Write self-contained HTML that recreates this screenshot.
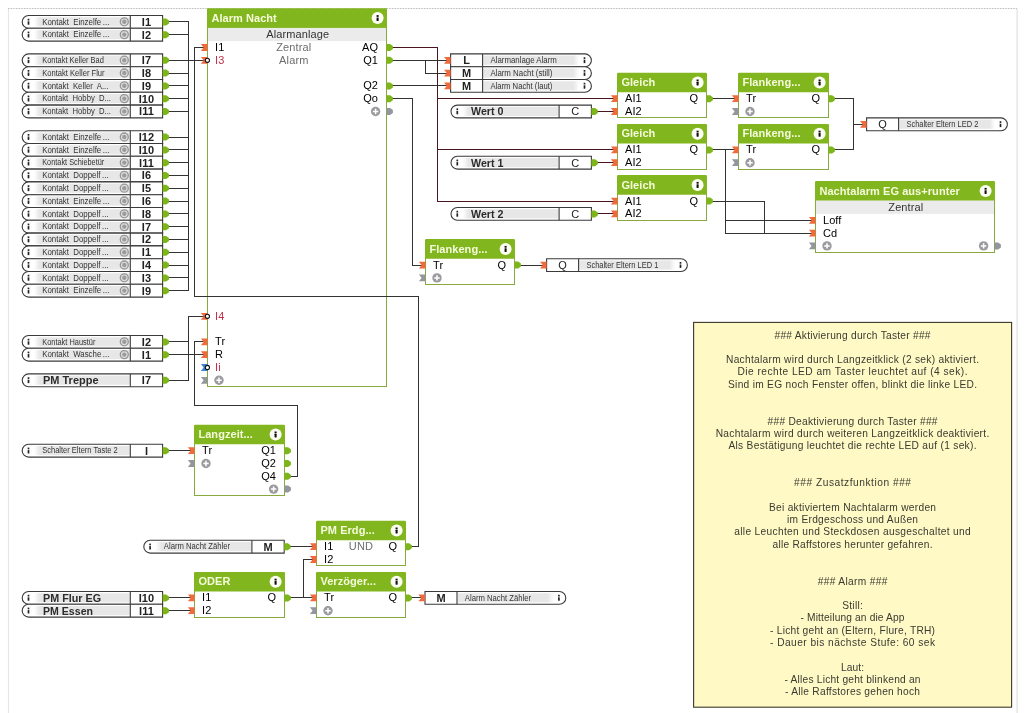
<!DOCTYPE html>
<html lang="de">
<head>
<meta charset="utf-8">
<title>Alarm Nacht</title>
<style>
html,body{margin:0;padding:0;background:#fff;}
body{width:1027px;height:713px;overflow:hidden;}
svg{display:block;font-family:"Liberation Sans", sans-serif;will-change:transform;}
text{white-space:pre;}
</style>
</head>
<body>
<svg width="1027" height="713" viewBox="0 0 1027 713">
<defs>
<linearGradient id="fadeL" x1="0" x2="1" y1="0" y2="0"><stop offset="0" stop-color="#ffffff"/><stop offset="0.06" stop-color="#e7e7e7"/><stop offset="1" stop-color="#e7e7e7"/></linearGradient>
<linearGradient id="fadeR" x1="0" x2="1" y1="0" y2="0"><stop offset="0" stop-color="#e7e7e7"/><stop offset="0.94" stop-color="#e7e7e7"/><stop offset="1" stop-color="#ffffff"/></linearGradient>
</defs>
<rect x="0" y="0" width="1027" height="713" fill="#fff"/>
<path d="M8 8.5 H1017" stroke="#b0b0b0" stroke-width="1" stroke-dasharray="0.8 0.8"/>
<path d="M8.5 9 V713" stroke="#e6e6e6" stroke-width="1.2"/>
<path d="M1017.2 9 V713" stroke="#e8e8e8" stroke-width="1.7"/>
<path d="M188.5 21.5 L188.5 290.5" fill="none" stroke="#333333" stroke-width="1" stroke-linejoin="miter" shape-rendering="crispEdges"/>
<path d="M167.5 21.5 L188.5 21.5" fill="none" stroke="#333333" stroke-width="1" stroke-linejoin="miter" shape-rendering="crispEdges"/>
<path d="M167.5 34.5 L188.5 34.5" fill="none" stroke="#333333" stroke-width="1" stroke-linejoin="miter" shape-rendering="crispEdges"/>
<path d="M167.5 60.5 L188.5 60.5" fill="none" stroke="#333333" stroke-width="1" stroke-linejoin="miter" shape-rendering="crispEdges"/>
<path d="M167.5 73.5 L188.5 73.5" fill="none" stroke="#333333" stroke-width="1" stroke-linejoin="miter" shape-rendering="crispEdges"/>
<path d="M167.5 85.5 L188.5 85.5" fill="none" stroke="#333333" stroke-width="1" stroke-linejoin="miter" shape-rendering="crispEdges"/>
<path d="M167.5 98.5 L188.5 98.5" fill="none" stroke="#333333" stroke-width="1" stroke-linejoin="miter" shape-rendering="crispEdges"/>
<path d="M167.5 111.5 L188.5 111.5" fill="none" stroke="#333333" stroke-width="1" stroke-linejoin="miter" shape-rendering="crispEdges"/>
<path d="M167.5 137.5 L188.5 137.5" fill="none" stroke="#333333" stroke-width="1" stroke-linejoin="miter" shape-rendering="crispEdges"/>
<path d="M167.5 149.5 L188.5 149.5" fill="none" stroke="#333333" stroke-width="1" stroke-linejoin="miter" shape-rendering="crispEdges"/>
<path d="M167.5 162.5 L188.5 162.5" fill="none" stroke="#333333" stroke-width="1" stroke-linejoin="miter" shape-rendering="crispEdges"/>
<path d="M167.5 175.5 L188.5 175.5" fill="none" stroke="#333333" stroke-width="1" stroke-linejoin="miter" shape-rendering="crispEdges"/>
<path d="M167.5 188.5 L188.5 188.5" fill="none" stroke="#333333" stroke-width="1" stroke-linejoin="miter" shape-rendering="crispEdges"/>
<path d="M167.5 201.5 L188.5 201.5" fill="none" stroke="#333333" stroke-width="1" stroke-linejoin="miter" shape-rendering="crispEdges"/>
<path d="M167.5 213.5 L188.5 213.5" fill="none" stroke="#333333" stroke-width="1" stroke-linejoin="miter" shape-rendering="crispEdges"/>
<path d="M167.5 226.5 L188.5 226.5" fill="none" stroke="#333333" stroke-width="1" stroke-linejoin="miter" shape-rendering="crispEdges"/>
<path d="M167.5 239.5 L188.5 239.5" fill="none" stroke="#333333" stroke-width="1" stroke-linejoin="miter" shape-rendering="crispEdges"/>
<path d="M167.5 252.5 L188.5 252.5" fill="none" stroke="#333333" stroke-width="1" stroke-linejoin="miter" shape-rendering="crispEdges"/>
<path d="M167.5 265.5 L188.5 265.5" fill="none" stroke="#333333" stroke-width="1" stroke-linejoin="miter" shape-rendering="crispEdges"/>
<path d="M167.5 277.5 L188.5 277.5" fill="none" stroke="#333333" stroke-width="1" stroke-linejoin="miter" shape-rendering="crispEdges"/>
<path d="M167.5 290.5 L188.5 290.5" fill="none" stroke="#333333" stroke-width="1" stroke-linejoin="miter" shape-rendering="crispEdges"/>
<path d="M188.5 60.5 L205.5 60.5" fill="none" stroke="#333333" stroke-width="1" stroke-linejoin="miter" shape-rendering="crispEdges"/>
<path d="M203.5 47.5 L194.5 47.5 L194.5 296.5 L418.5 296.5 L418.5 546.5 L410.5 546.5" fill="none" stroke="#333333" stroke-width="1" stroke-linejoin="miter" shape-rendering="crispEdges"/>
<path d="M205.5 316.5 L188.5 316.5 L188.5 380.5 L167.5 380.5" fill="none" stroke="#333333" stroke-width="1" stroke-linejoin="miter" shape-rendering="crispEdges"/>
<path d="M167.5 341.5 L188.5 341.5" fill="none" stroke="#333333" stroke-width="1" stroke-linejoin="miter" shape-rendering="crispEdges"/>
<path d="M203.5 341.5 L194.5 341.5 L194.5 405.5 L297.5 405.5 L297.5 476.5 L288.5 476.5" fill="none" stroke="#333333" stroke-width="1" stroke-linejoin="miter" shape-rendering="crispEdges"/>
<path d="M167.5 354.5 L203.5 354.5" fill="none" stroke="#333333" stroke-width="1" stroke-linejoin="miter" shape-rendering="crispEdges"/>
<path d="M167.5 450.5 L190.5 450.5" fill="none" stroke="#333333" stroke-width="1" stroke-linejoin="miter" shape-rendering="crispEdges"/>
<path d="M288.5 546.5 L312.5 546.5" fill="none" stroke="#333333" stroke-width="1" stroke-linejoin="miter" shape-rendering="crispEdges"/>
<path d="M167.5 597.5 L190.5 597.5" fill="none" stroke="#333333" stroke-width="1" stroke-linejoin="miter" shape-rendering="crispEdges"/>
<path d="M167.5 610.5 L190.5 610.5" fill="none" stroke="#333333" stroke-width="1" stroke-linejoin="miter" shape-rendering="crispEdges"/>
<path d="M288.5 597.5 L312.5 597.5" fill="none" stroke="#333333" stroke-width="1" stroke-linejoin="miter" shape-rendering="crispEdges"/>
<path d="M303.5 597.5 L303.5 559.5 L312.5 559.5" fill="none" stroke="#333333" stroke-width="1" stroke-linejoin="miter" shape-rendering="crispEdges"/>
<path d="M410.5 597.5 L421.5 597.5" fill="none" stroke="#333333" stroke-width="1" stroke-linejoin="miter" shape-rendering="crispEdges"/>
<path d="M391.5 47.5 L437.5 47.5 L437.5 201.5 L613.5 201.5" fill="none" stroke="#4a1420" stroke-width="1" stroke-linejoin="miter" shape-rendering="crispEdges"/>
<path d="M437.5 98.5 L613.5 98.5" fill="none" stroke="#4a1420" stroke-width="1" stroke-linejoin="miter" shape-rendering="crispEdges"/>
<path d="M437.5 149.5 L613.5 149.5" fill="none" stroke="#4a1420" stroke-width="1" stroke-linejoin="miter" shape-rendering="crispEdges"/>
<path d="M391.5 60.5 L446.5 60.5" fill="none" stroke="#333333" stroke-width="1" stroke-linejoin="miter" shape-rendering="crispEdges"/>
<path d="M425.5 60.5 L425.5 73.5 L446.5 73.5" fill="none" stroke="#333333" stroke-width="1" stroke-linejoin="miter" shape-rendering="crispEdges"/>
<path d="M391.5 85.5 L446.5 85.5" fill="none" stroke="#333333" stroke-width="1" stroke-linejoin="miter" shape-rendering="crispEdges"/>
<path d="M391.5 98.5 L412.5 98.5 L412.5 265.5 L421.5 265.5" fill="none" stroke="#333333" stroke-width="1" stroke-linejoin="miter" shape-rendering="crispEdges"/>
<path d="M596.5 111.5 L613.5 111.5" fill="none" stroke="#4a1420" stroke-width="1" stroke-linejoin="miter" shape-rendering="crispEdges"/>
<path d="M596.5 162.5 L613.5 162.5" fill="none" stroke="#4a1420" stroke-width="1" stroke-linejoin="miter" shape-rendering="crispEdges"/>
<path d="M596.5 213.5 L613.5 213.5" fill="none" stroke="#4a1420" stroke-width="1" stroke-linejoin="miter" shape-rendering="crispEdges"/>
<path d="M711.5 98.5 L734.5 98.5" fill="none" stroke="#333333" stroke-width="1" stroke-linejoin="miter" shape-rendering="crispEdges"/>
<path d="M711.5 149.5 L734.5 149.5" fill="none" stroke="#333333" stroke-width="1" stroke-linejoin="miter" shape-rendering="crispEdges"/>
<path d="M725.5 149.5 L725.5 233.5 L811.5 233.5" fill="none" stroke="#333333" stroke-width="1" stroke-linejoin="miter" shape-rendering="crispEdges"/>
<path d="M725.5 220.5 L811.5 220.5" fill="none" stroke="#333333" stroke-width="1" stroke-linejoin="miter" shape-rendering="crispEdges"/>
<path d="M711.5 201.5 L764.5 201.5 L764.5 233.5" fill="none" stroke="#333333" stroke-width="1" stroke-linejoin="miter" shape-rendering="crispEdges"/>
<path d="M832.5 98.5 L853.5 98.5 L853.5 149.5 L832.5 149.5" fill="none" stroke="#333333" stroke-width="1" stroke-linejoin="miter" shape-rendering="crispEdges"/>
<path d="M853.5 124.5 L862.5 124.5" fill="none" stroke="#333333" stroke-width="1" stroke-linejoin="miter" shape-rendering="crispEdges"/>
<path d="M519.5 265.5 L542.5 265.5" fill="none" stroke="#333333" stroke-width="1" stroke-linejoin="miter" shape-rendering="crispEdges"/>
<path d="M162.6 15.5 H28.6 a6.4 6.4 0 0 0 0 12.8 H162.6 z" fill="#fff" stroke="#3a3a3a" stroke-width="1.1"/>
<rect x="34" y="17.2" width="95.7" height="9.2" fill="url(#fadeL)"/>
<path d="M130.3 15.5 v12.8" stroke="#3a3a3a" stroke-width="1.1"/>
<rect x="27.65" y="18.8" width="1.7" height="1.7" fill="#222"/>
<rect x="27.65" y="21.3" width="1.7" height="3.4" fill="#222"/>
<text x="42.2" y="24.6" font-size="8.3" fill="#333" text-anchor="start" textLength="67.2" lengthAdjust="spacingAndGlyphs">Kontakt  Einzelfe ...</text>
<circle cx="124.3" cy="21.8" r="4.0" fill="#dedede" stroke="#969696" stroke-width="1.3"/>
<circle cx="124.3" cy="21.8" r="2.2" fill="#9c9c9c"/>
<text x="146.45" y="25.8" font-size="11" font-weight="bold" fill="#222" text-anchor="middle">I1</text>
<path d="M162.6 18.4 h3.6 l2.8 2 v3 l-2.8 2 h-3.6 z" fill="#7db51a"/>
<path d="M162.6 28.3 H28.6 a6.4 6.4 0 0 0 0 12.8 H162.6 z" fill="#fff" stroke="#3a3a3a" stroke-width="1.1"/>
<rect x="34" y="30" width="95.7" height="9.2" fill="url(#fadeL)"/>
<path d="M130.3 28.3 v12.8" stroke="#3a3a3a" stroke-width="1.1"/>
<rect x="27.65" y="31.6" width="1.7" height="1.7" fill="#222"/>
<rect x="27.65" y="34.1" width="1.7" height="3.4" fill="#222"/>
<text x="42.2" y="37.4" font-size="8.3" fill="#333" text-anchor="start" textLength="67.2" lengthAdjust="spacingAndGlyphs">Kontakt  Einzelfe ...</text>
<circle cx="124.3" cy="34.6" r="4.0" fill="#dedede" stroke="#969696" stroke-width="1.3"/>
<circle cx="124.3" cy="34.6" r="2.2" fill="#9c9c9c"/>
<text x="146.45" y="38.6" font-size="11" font-weight="bold" fill="#222" text-anchor="middle">I2</text>
<path d="M162.6 31.2 h3.6 l2.8 2 v3 l-2.8 2 h-3.6 z" fill="#7db51a"/>
<path d="M162.6 53.9 H28.6 a6.4 6.4 0 0 0 0 12.8 H162.6 z" fill="#fff" stroke="#3a3a3a" stroke-width="1.1"/>
<rect x="34" y="55.6" width="95.7" height="9.2" fill="url(#fadeL)"/>
<path d="M130.3 53.9 v12.8" stroke="#3a3a3a" stroke-width="1.1"/>
<rect x="27.65" y="57.2" width="1.7" height="1.7" fill="#222"/>
<rect x="27.65" y="59.7" width="1.7" height="3.4" fill="#222"/>
<text x="42.2" y="63" font-size="8.3" fill="#333" text-anchor="start" textLength="61.7" lengthAdjust="spacingAndGlyphs">Kontakt Keller Bad</text>
<circle cx="124.3" cy="60.2" r="4.0" fill="#dedede" stroke="#969696" stroke-width="1.3"/>
<circle cx="124.3" cy="60.2" r="2.2" fill="#9c9c9c"/>
<text x="146.45" y="64.2" font-size="11" font-weight="bold" fill="#222" text-anchor="middle">I7</text>
<path d="M162.6 56.8 h3.6 l2.8 2 v3 l-2.8 2 h-3.6 z" fill="#7db51a"/>
<path d="M162.6 66.7 H28.6 a6.4 6.4 0 0 0 0 12.8 H162.6 z" fill="#fff" stroke="#3a3a3a" stroke-width="1.1"/>
<rect x="34" y="68.4" width="95.7" height="9.2" fill="url(#fadeL)"/>
<path d="M130.3 66.7 v12.8" stroke="#3a3a3a" stroke-width="1.1"/>
<rect x="27.65" y="70" width="1.7" height="1.7" fill="#222"/>
<rect x="27.65" y="72.5" width="1.7" height="3.4" fill="#222"/>
<text x="42.2" y="75.8" font-size="8.3" fill="#333" text-anchor="start" textLength="62.4" lengthAdjust="spacingAndGlyphs">Kontakt Keller Flur</text>
<circle cx="124.3" cy="73" r="4.0" fill="#dedede" stroke="#969696" stroke-width="1.3"/>
<circle cx="124.3" cy="73" r="2.2" fill="#9c9c9c"/>
<text x="146.45" y="77" font-size="11" font-weight="bold" fill="#222" text-anchor="middle">I8</text>
<path d="M162.6 69.6 h3.6 l2.8 2 v3 l-2.8 2 h-3.6 z" fill="#7db51a"/>
<path d="M162.6 79.5 H28.6 a6.4 6.4 0 0 0 0 12.8 H162.6 z" fill="#fff" stroke="#3a3a3a" stroke-width="1.1"/>
<rect x="34" y="81.2" width="95.7" height="9.2" fill="url(#fadeL)"/>
<path d="M130.3 79.5 v12.8" stroke="#3a3a3a" stroke-width="1.1"/>
<rect x="27.65" y="82.8" width="1.7" height="1.7" fill="#222"/>
<rect x="27.65" y="85.3" width="1.7" height="3.4" fill="#222"/>
<text x="42.2" y="88.6" font-size="8.3" fill="#333" text-anchor="start" textLength="66.2" lengthAdjust="spacingAndGlyphs">Kontakt  Keller  A...</text>
<circle cx="124.3" cy="85.8" r="4.0" fill="#dedede" stroke="#969696" stroke-width="1.3"/>
<circle cx="124.3" cy="85.8" r="2.2" fill="#9c9c9c"/>
<text x="146.45" y="89.8" font-size="11" font-weight="bold" fill="#222" text-anchor="middle">I9</text>
<path d="M162.6 82.4 h3.6 l2.8 2 v3 l-2.8 2 h-3.6 z" fill="#7db51a"/>
<path d="M162.6 92.3 H28.6 a6.4 6.4 0 0 0 0 12.8 H162.6 z" fill="#fff" stroke="#3a3a3a" stroke-width="1.1"/>
<rect x="34" y="94" width="95.7" height="9.2" fill="url(#fadeL)"/>
<path d="M130.3 92.3 v12.8" stroke="#3a3a3a" stroke-width="1.1"/>
<rect x="27.65" y="95.6" width="1.7" height="1.7" fill="#222"/>
<rect x="27.65" y="98.1" width="1.7" height="3.4" fill="#222"/>
<text x="42.2" y="101.4" font-size="8.3" fill="#333" text-anchor="start" textLength="68.8" lengthAdjust="spacingAndGlyphs">Kontakt  Hobby  D...</text>
<circle cx="124.3" cy="98.6" r="4.0" fill="#dedede" stroke="#969696" stroke-width="1.3"/>
<circle cx="124.3" cy="98.6" r="2.2" fill="#9c9c9c"/>
<text x="146.45" y="102.6" font-size="11" font-weight="bold" fill="#222" text-anchor="middle">I10</text>
<path d="M162.6 95.2 h3.6 l2.8 2 v3 l-2.8 2 h-3.6 z" fill="#7db51a"/>
<path d="M162.6 105.1 H28.6 a6.4 6.4 0 0 0 0 12.8 H162.6 z" fill="#fff" stroke="#3a3a3a" stroke-width="1.1"/>
<rect x="34" y="106.8" width="95.7" height="9.2" fill="url(#fadeL)"/>
<path d="M130.3 105.1 v12.8" stroke="#3a3a3a" stroke-width="1.1"/>
<rect x="27.65" y="108.4" width="1.7" height="1.7" fill="#222"/>
<rect x="27.65" y="110.9" width="1.7" height="3.4" fill="#222"/>
<text x="42.2" y="114.2" font-size="8.3" fill="#333" text-anchor="start" textLength="68.8" lengthAdjust="spacingAndGlyphs">Kontakt  Hobby  D...</text>
<circle cx="124.3" cy="111.4" r="4.0" fill="#dedede" stroke="#969696" stroke-width="1.3"/>
<circle cx="124.3" cy="111.4" r="2.2" fill="#9c9c9c"/>
<text x="146.45" y="115.4" font-size="11" font-weight="bold" fill="#222" text-anchor="middle">I11</text>
<path d="M162.6 108 h3.6 l2.8 2 v3 l-2.8 2 h-3.6 z" fill="#7db51a"/>
<path d="M162.6 130.7 H28.6 a6.4 6.4 0 0 0 0 12.8 H162.6 z" fill="#fff" stroke="#3a3a3a" stroke-width="1.1"/>
<rect x="34" y="132.4" width="95.7" height="9.2" fill="url(#fadeL)"/>
<path d="M130.3 130.7 v12.8" stroke="#3a3a3a" stroke-width="1.1"/>
<rect x="27.65" y="134" width="1.7" height="1.7" fill="#222"/>
<rect x="27.65" y="136.5" width="1.7" height="3.4" fill="#222"/>
<text x="42.2" y="139.8" font-size="8.3" fill="#333" text-anchor="start" textLength="67.2" lengthAdjust="spacingAndGlyphs">Kontakt  Einzelfe ...</text>
<circle cx="124.3" cy="137" r="4.0" fill="#dedede" stroke="#969696" stroke-width="1.3"/>
<circle cx="124.3" cy="137" r="2.2" fill="#9c9c9c"/>
<text x="146.45" y="141" font-size="11" font-weight="bold" fill="#222" text-anchor="middle">I12</text>
<path d="M162.6 133.6 h3.6 l2.8 2 v3 l-2.8 2 h-3.6 z" fill="#7db51a"/>
<path d="M162.6 143.5 H28.6 a6.4 6.4 0 0 0 0 12.8 H162.6 z" fill="#fff" stroke="#3a3a3a" stroke-width="1.1"/>
<rect x="34" y="145.2" width="95.7" height="9.2" fill="url(#fadeL)"/>
<path d="M130.3 143.5 v12.8" stroke="#3a3a3a" stroke-width="1.1"/>
<rect x="27.65" y="146.8" width="1.7" height="1.7" fill="#222"/>
<rect x="27.65" y="149.3" width="1.7" height="3.4" fill="#222"/>
<text x="42.2" y="152.6" font-size="8.3" fill="#333" text-anchor="start" textLength="67.2" lengthAdjust="spacingAndGlyphs">Kontakt  Einzelfe ...</text>
<circle cx="124.3" cy="149.8" r="4.0" fill="#dedede" stroke="#969696" stroke-width="1.3"/>
<circle cx="124.3" cy="149.8" r="2.2" fill="#9c9c9c"/>
<text x="146.45" y="153.8" font-size="11" font-weight="bold" fill="#222" text-anchor="middle">I10</text>
<path d="M162.6 146.4 h3.6 l2.8 2 v3 l-2.8 2 h-3.6 z" fill="#7db51a"/>
<path d="M162.6 156.3 H28.6 a6.4 6.4 0 0 0 0 12.8 H162.6 z" fill="#fff" stroke="#3a3a3a" stroke-width="1.1"/>
<rect x="34" y="158" width="95.7" height="9.2" fill="url(#fadeL)"/>
<path d="M130.3 156.3 v12.8" stroke="#3a3a3a" stroke-width="1.1"/>
<rect x="27.65" y="159.6" width="1.7" height="1.7" fill="#222"/>
<rect x="27.65" y="162.1" width="1.7" height="3.4" fill="#222"/>
<text x="42.2" y="165.4" font-size="8.3" fill="#333" text-anchor="start" textLength="62.1" lengthAdjust="spacingAndGlyphs">Kontakt Schiebetür</text>
<circle cx="124.3" cy="162.6" r="4.0" fill="#dedede" stroke="#969696" stroke-width="1.3"/>
<circle cx="124.3" cy="162.6" r="2.2" fill="#9c9c9c"/>
<text x="146.45" y="166.6" font-size="11" font-weight="bold" fill="#222" text-anchor="middle">I11</text>
<path d="M162.6 159.2 h3.6 l2.8 2 v3 l-2.8 2 h-3.6 z" fill="#7db51a"/>
<path d="M162.6 169.1 H28.6 a6.4 6.4 0 0 0 0 12.8 H162.6 z" fill="#fff" stroke="#3a3a3a" stroke-width="1.1"/>
<rect x="34" y="170.8" width="95.7" height="9.2" fill="url(#fadeL)"/>
<path d="M130.3 169.1 v12.8" stroke="#3a3a3a" stroke-width="1.1"/>
<rect x="27.65" y="172.4" width="1.7" height="1.7" fill="#222"/>
<rect x="27.65" y="174.9" width="1.7" height="3.4" fill="#222"/>
<text x="42.2" y="178.2" font-size="8.3" fill="#333" text-anchor="start" textLength="66.4" lengthAdjust="spacingAndGlyphs">Kontakt  Doppelf ...</text>
<circle cx="124.3" cy="175.4" r="4.0" fill="#dedede" stroke="#969696" stroke-width="1.3"/>
<circle cx="124.3" cy="175.4" r="2.2" fill="#9c9c9c"/>
<text x="146.45" y="179.4" font-size="11" font-weight="bold" fill="#222" text-anchor="middle">I6</text>
<path d="M162.6 172 h3.6 l2.8 2 v3 l-2.8 2 h-3.6 z" fill="#7db51a"/>
<path d="M162.6 181.9 H28.6 a6.4 6.4 0 0 0 0 12.8 H162.6 z" fill="#fff" stroke="#3a3a3a" stroke-width="1.1"/>
<rect x="34" y="183.6" width="95.7" height="9.2" fill="url(#fadeL)"/>
<path d="M130.3 181.9 v12.8" stroke="#3a3a3a" stroke-width="1.1"/>
<rect x="27.65" y="185.2" width="1.7" height="1.7" fill="#222"/>
<rect x="27.65" y="187.7" width="1.7" height="3.4" fill="#222"/>
<text x="42.2" y="191" font-size="8.3" fill="#333" text-anchor="start" textLength="66.4" lengthAdjust="spacingAndGlyphs">Kontakt  Doppelf ...</text>
<circle cx="124.3" cy="188.2" r="4.0" fill="#dedede" stroke="#969696" stroke-width="1.3"/>
<circle cx="124.3" cy="188.2" r="2.2" fill="#9c9c9c"/>
<text x="146.45" y="192.2" font-size="11" font-weight="bold" fill="#222" text-anchor="middle">I5</text>
<path d="M162.6 184.8 h3.6 l2.8 2 v3 l-2.8 2 h-3.6 z" fill="#7db51a"/>
<path d="M162.6 194.7 H28.6 a6.4 6.4 0 0 0 0 12.8 H162.6 z" fill="#fff" stroke="#3a3a3a" stroke-width="1.1"/>
<rect x="34" y="196.4" width="95.7" height="9.2" fill="url(#fadeL)"/>
<path d="M130.3 194.7 v12.8" stroke="#3a3a3a" stroke-width="1.1"/>
<rect x="27.65" y="198" width="1.7" height="1.7" fill="#222"/>
<rect x="27.65" y="200.5" width="1.7" height="3.4" fill="#222"/>
<text x="42.2" y="203.8" font-size="8.3" fill="#333" text-anchor="start" textLength="67.2" lengthAdjust="spacingAndGlyphs">Kontakt  Einzelfe ...</text>
<circle cx="124.3" cy="201" r="4.0" fill="#dedede" stroke="#969696" stroke-width="1.3"/>
<circle cx="124.3" cy="201" r="2.2" fill="#9c9c9c"/>
<text x="146.45" y="205" font-size="11" font-weight="bold" fill="#222" text-anchor="middle">I6</text>
<path d="M162.6 197.6 h3.6 l2.8 2 v3 l-2.8 2 h-3.6 z" fill="#7db51a"/>
<path d="M162.6 207.5 H28.6 a6.4 6.4 0 0 0 0 12.8 H162.6 z" fill="#fff" stroke="#3a3a3a" stroke-width="1.1"/>
<rect x="34" y="209.2" width="95.7" height="9.2" fill="url(#fadeL)"/>
<path d="M130.3 207.5 v12.8" stroke="#3a3a3a" stroke-width="1.1"/>
<rect x="27.65" y="210.8" width="1.7" height="1.7" fill="#222"/>
<rect x="27.65" y="213.3" width="1.7" height="3.4" fill="#222"/>
<text x="42.2" y="216.6" font-size="8.3" fill="#333" text-anchor="start" textLength="66.4" lengthAdjust="spacingAndGlyphs">Kontakt  Doppelf ...</text>
<circle cx="124.3" cy="213.8" r="4.0" fill="#dedede" stroke="#969696" stroke-width="1.3"/>
<circle cx="124.3" cy="213.8" r="2.2" fill="#9c9c9c"/>
<text x="146.45" y="217.8" font-size="11" font-weight="bold" fill="#222" text-anchor="middle">I8</text>
<path d="M162.6 210.4 h3.6 l2.8 2 v3 l-2.8 2 h-3.6 z" fill="#7db51a"/>
<path d="M162.6 220.3 H28.6 a6.4 6.4 0 0 0 0 12.8 H162.6 z" fill="#fff" stroke="#3a3a3a" stroke-width="1.1"/>
<rect x="34" y="222" width="95.7" height="9.2" fill="url(#fadeL)"/>
<path d="M130.3 220.3 v12.8" stroke="#3a3a3a" stroke-width="1.1"/>
<rect x="27.65" y="223.6" width="1.7" height="1.7" fill="#222"/>
<rect x="27.65" y="226.1" width="1.7" height="3.4" fill="#222"/>
<text x="42.2" y="229.4" font-size="8.3" fill="#333" text-anchor="start" textLength="66.4" lengthAdjust="spacingAndGlyphs">Kontakt  Doppelf ...</text>
<circle cx="124.3" cy="226.6" r="4.0" fill="#dedede" stroke="#969696" stroke-width="1.3"/>
<circle cx="124.3" cy="226.6" r="2.2" fill="#9c9c9c"/>
<text x="146.45" y="230.6" font-size="11" font-weight="bold" fill="#222" text-anchor="middle">I7</text>
<path d="M162.6 223.2 h3.6 l2.8 2 v3 l-2.8 2 h-3.6 z" fill="#7db51a"/>
<path d="M162.6 233.1 H28.6 a6.4 6.4 0 0 0 0 12.8 H162.6 z" fill="#fff" stroke="#3a3a3a" stroke-width="1.1"/>
<rect x="34" y="234.8" width="95.7" height="9.2" fill="url(#fadeL)"/>
<path d="M130.3 233.1 v12.8" stroke="#3a3a3a" stroke-width="1.1"/>
<rect x="27.65" y="236.4" width="1.7" height="1.7" fill="#222"/>
<rect x="27.65" y="238.9" width="1.7" height="3.4" fill="#222"/>
<text x="42.2" y="242.2" font-size="8.3" fill="#333" text-anchor="start" textLength="66.4" lengthAdjust="spacingAndGlyphs">Kontakt  Doppelf ...</text>
<circle cx="124.3" cy="239.4" r="4.0" fill="#dedede" stroke="#969696" stroke-width="1.3"/>
<circle cx="124.3" cy="239.4" r="2.2" fill="#9c9c9c"/>
<text x="146.45" y="243.4" font-size="11" font-weight="bold" fill="#222" text-anchor="middle">I2</text>
<path d="M162.6 236 h3.6 l2.8 2 v3 l-2.8 2 h-3.6 z" fill="#7db51a"/>
<path d="M162.6 245.9 H28.6 a6.4 6.4 0 0 0 0 12.8 H162.6 z" fill="#fff" stroke="#3a3a3a" stroke-width="1.1"/>
<rect x="34" y="247.6" width="95.7" height="9.2" fill="url(#fadeL)"/>
<path d="M130.3 245.9 v12.8" stroke="#3a3a3a" stroke-width="1.1"/>
<rect x="27.65" y="249.2" width="1.7" height="1.7" fill="#222"/>
<rect x="27.65" y="251.7" width="1.7" height="3.4" fill="#222"/>
<text x="42.2" y="255" font-size="8.3" fill="#333" text-anchor="start" textLength="66.4" lengthAdjust="spacingAndGlyphs">Kontakt  Doppelf ...</text>
<circle cx="124.3" cy="252.2" r="4.0" fill="#dedede" stroke="#969696" stroke-width="1.3"/>
<circle cx="124.3" cy="252.2" r="2.2" fill="#9c9c9c"/>
<text x="146.45" y="256.2" font-size="11" font-weight="bold" fill="#222" text-anchor="middle">I1</text>
<path d="M162.6 248.8 h3.6 l2.8 2 v3 l-2.8 2 h-3.6 z" fill="#7db51a"/>
<path d="M162.6 258.7 H28.6 a6.4 6.4 0 0 0 0 12.8 H162.6 z" fill="#fff" stroke="#3a3a3a" stroke-width="1.1"/>
<rect x="34" y="260.4" width="95.7" height="9.2" fill="url(#fadeL)"/>
<path d="M130.3 258.7 v12.8" stroke="#3a3a3a" stroke-width="1.1"/>
<rect x="27.65" y="262" width="1.7" height="1.7" fill="#222"/>
<rect x="27.65" y="264.5" width="1.7" height="3.4" fill="#222"/>
<text x="42.2" y="267.8" font-size="8.3" fill="#333" text-anchor="start" textLength="66.4" lengthAdjust="spacingAndGlyphs">Kontakt  Doppelf ...</text>
<circle cx="124.3" cy="265" r="4.0" fill="#dedede" stroke="#969696" stroke-width="1.3"/>
<circle cx="124.3" cy="265" r="2.2" fill="#9c9c9c"/>
<text x="146.45" y="269" font-size="11" font-weight="bold" fill="#222" text-anchor="middle">I4</text>
<path d="M162.6 261.6 h3.6 l2.8 2 v3 l-2.8 2 h-3.6 z" fill="#7db51a"/>
<path d="M162.6 271.5 H28.6 a6.4 6.4 0 0 0 0 12.8 H162.6 z" fill="#fff" stroke="#3a3a3a" stroke-width="1.1"/>
<rect x="34" y="273.2" width="95.7" height="9.2" fill="url(#fadeL)"/>
<path d="M130.3 271.5 v12.8" stroke="#3a3a3a" stroke-width="1.1"/>
<rect x="27.65" y="274.8" width="1.7" height="1.7" fill="#222"/>
<rect x="27.65" y="277.3" width="1.7" height="3.4" fill="#222"/>
<text x="42.2" y="280.6" font-size="8.3" fill="#333" text-anchor="start" textLength="66.4" lengthAdjust="spacingAndGlyphs">Kontakt  Doppelf ...</text>
<circle cx="124.3" cy="277.8" r="4.0" fill="#dedede" stroke="#969696" stroke-width="1.3"/>
<circle cx="124.3" cy="277.8" r="2.2" fill="#9c9c9c"/>
<text x="146.45" y="281.8" font-size="11" font-weight="bold" fill="#222" text-anchor="middle">I3</text>
<path d="M162.6 274.4 h3.6 l2.8 2 v3 l-2.8 2 h-3.6 z" fill="#7db51a"/>
<path d="M162.6 284.3 H28.6 a6.4 6.4 0 0 0 0 12.8 H162.6 z" fill="#fff" stroke="#3a3a3a" stroke-width="1.1"/>
<rect x="34" y="286" width="95.7" height="9.2" fill="url(#fadeL)"/>
<path d="M130.3 284.3 v12.8" stroke="#3a3a3a" stroke-width="1.1"/>
<rect x="27.65" y="287.6" width="1.7" height="1.7" fill="#222"/>
<rect x="27.65" y="290.1" width="1.7" height="3.4" fill="#222"/>
<text x="42.2" y="293.4" font-size="8.3" fill="#333" text-anchor="start" textLength="67.2" lengthAdjust="spacingAndGlyphs">Kontakt  Einzelfe ...</text>
<circle cx="124.3" cy="290.6" r="4.0" fill="#dedede" stroke="#969696" stroke-width="1.3"/>
<circle cx="124.3" cy="290.6" r="2.2" fill="#9c9c9c"/>
<text x="146.45" y="294.6" font-size="11" font-weight="bold" fill="#222" text-anchor="middle">I9</text>
<path d="M162.6 287.2 h3.6 l2.8 2 v3 l-2.8 2 h-3.6 z" fill="#7db51a"/>
<path d="M162.6 335.5 H28.6 a6.4 6.4 0 0 0 0 12.8 H162.6 z" fill="#fff" stroke="#3a3a3a" stroke-width="1.1"/>
<rect x="34" y="337.2" width="95.7" height="9.2" fill="url(#fadeL)"/>
<path d="M130.3 335.5 v12.8" stroke="#3a3a3a" stroke-width="1.1"/>
<rect x="27.65" y="338.8" width="1.7" height="1.7" fill="#222"/>
<rect x="27.65" y="341.3" width="1.7" height="3.4" fill="#222"/>
<text x="42.2" y="344.6" font-size="8.3" fill="#333" text-anchor="start" textLength="53.3" lengthAdjust="spacingAndGlyphs">Kontakt Haustür</text>
<circle cx="124.3" cy="341.8" r="4.0" fill="#dedede" stroke="#969696" stroke-width="1.3"/>
<circle cx="124.3" cy="341.8" r="2.2" fill="#9c9c9c"/>
<text x="146.45" y="345.8" font-size="11" font-weight="bold" fill="#222" text-anchor="middle">I2</text>
<path d="M162.6 338.4 h3.6 l2.8 2 v3 l-2.8 2 h-3.6 z" fill="#7db51a"/>
<path d="M162.6 348.3 H28.6 a6.4 6.4 0 0 0 0 12.8 H162.6 z" fill="#fff" stroke="#3a3a3a" stroke-width="1.1"/>
<rect x="34" y="350" width="95.7" height="9.2" fill="url(#fadeL)"/>
<path d="M130.3 348.3 v12.8" stroke="#3a3a3a" stroke-width="1.1"/>
<rect x="27.65" y="351.6" width="1.7" height="1.7" fill="#222"/>
<rect x="27.65" y="354.1" width="1.7" height="3.4" fill="#222"/>
<text x="42.2" y="357.4" font-size="8.3" fill="#333" text-anchor="start" textLength="67.2" lengthAdjust="spacingAndGlyphs">Kontakt  Wasche ...</text>
<circle cx="124.3" cy="354.6" r="4.0" fill="#dedede" stroke="#969696" stroke-width="1.3"/>
<circle cx="124.3" cy="354.6" r="2.2" fill="#9c9c9c"/>
<text x="146.45" y="358.6" font-size="11" font-weight="bold" fill="#222" text-anchor="middle">I1</text>
<path d="M162.6 351.2 h3.6 l2.8 2 v3 l-2.8 2 h-3.6 z" fill="#7db51a"/>
<path d="M162.6 373.9 H28.6 a6.4 6.4 0 0 0 0 12.8 H162.6 z" fill="#fff" stroke="#3a3a3a" stroke-width="1.1"/>
<rect x="34" y="375.6" width="95.7" height="9.2" fill="url(#fadeL)"/>
<path d="M130.3 373.9 v12.8" stroke="#3a3a3a" stroke-width="1.1"/>
<rect x="27.65" y="377.2" width="1.7" height="1.7" fill="#222"/>
<rect x="27.65" y="379.7" width="1.7" height="3.4" fill="#222"/>
<text x="43" y="384.2" font-size="11" font-weight="bold" fill="#2c2c2c" text-anchor="start" textLength="55.5" lengthAdjust="spacingAndGlyphs">PM Treppe</text>
<text x="146.45" y="384.2" font-size="11" font-weight="bold" fill="#222" text-anchor="middle">I7</text>
<path d="M162.6 376.8 h3.6 l2.8 2 v3 l-2.8 2 h-3.6 z" fill="#7db51a"/>
<path d="M162.6 444.3 H28.6 a6.4 6.4 0 0 0 0 12.8 H162.6 z" fill="#fff" stroke="#3a3a3a" stroke-width="1.1"/>
<rect x="34" y="446" width="95.7" height="9.2" fill="url(#fadeL)"/>
<path d="M130.3 444.3 v12.8" stroke="#3a3a3a" stroke-width="1.1"/>
<rect x="27.65" y="447.6" width="1.7" height="1.7" fill="#222"/>
<rect x="27.65" y="450.1" width="1.7" height="3.4" fill="#222"/>
<text x="42.2" y="453.4" font-size="8.3" fill="#333" text-anchor="start" textLength="75.5" lengthAdjust="spacingAndGlyphs">Schalter Eltern Taste 2</text>
<text x="146.45" y="454.6" font-size="11" font-weight="bold" fill="#222" text-anchor="middle">I</text>
<path d="M162.6 447.2 h3.6 l2.8 2 v3 l-2.8 2 h-3.6 z" fill="#7db51a"/>
<path d="M284.2 540.3 H150.2 a6.4 6.4 0 0 0 0 12.8 H284.2 z" fill="#fff" stroke="#3a3a3a" stroke-width="1.1"/>
<rect x="155.6" y="542" width="95.7" height="9.2" fill="url(#fadeL)"/>
<path d="M251.9 540.3 v12.8" stroke="#3a3a3a" stroke-width="1.1"/>
<rect x="149.25" y="543.6" width="1.7" height="1.7" fill="#222"/>
<rect x="149.25" y="546.1" width="1.7" height="3.4" fill="#222"/>
<text x="163.8" y="549.4" font-size="8.3" fill="#333" text-anchor="start" textLength="66.2" lengthAdjust="spacingAndGlyphs">Alarm Nacht Zähler</text>
<text x="268.05" y="550.6" font-size="11" font-weight="bold" fill="#222" text-anchor="middle">M</text>
<path d="M284.2 543.2 h3.6 l2.8 2 v3 l-2.8 2 h-3.6 z" fill="#7db51a"/>
<path d="M162.6 591.5 H28.6 a6.4 6.4 0 0 0 0 12.8 H162.6 z" fill="#fff" stroke="#3a3a3a" stroke-width="1.1"/>
<rect x="34" y="593.2" width="95.7" height="9.2" fill="url(#fadeL)"/>
<path d="M130.3 591.5 v12.8" stroke="#3a3a3a" stroke-width="1.1"/>
<rect x="27.65" y="594.8" width="1.7" height="1.7" fill="#222"/>
<rect x="27.65" y="597.3" width="1.7" height="3.4" fill="#222"/>
<text x="43" y="601.8" font-size="11" font-weight="bold" fill="#2c2c2c" text-anchor="start" textLength="58" lengthAdjust="spacingAndGlyphs">PM Flur EG</text>
<text x="146.45" y="601.8" font-size="11" font-weight="bold" fill="#222" text-anchor="middle">I10</text>
<path d="M162.6 594.4 h3.6 l2.8 2 v3 l-2.8 2 h-3.6 z" fill="#7db51a"/>
<path d="M162.6 604.3 H28.6 a6.4 6.4 0 0 0 0 12.8 H162.6 z" fill="#fff" stroke="#3a3a3a" stroke-width="1.1"/>
<rect x="34" y="606" width="95.7" height="9.2" fill="url(#fadeL)"/>
<path d="M130.3 604.3 v12.8" stroke="#3a3a3a" stroke-width="1.1"/>
<rect x="27.65" y="607.6" width="1.7" height="1.7" fill="#222"/>
<rect x="27.65" y="610.1" width="1.7" height="3.4" fill="#222"/>
<text x="43" y="614.6" font-size="11" font-weight="bold" fill="#2c2c2c" text-anchor="start" textLength="50" lengthAdjust="spacingAndGlyphs">PM Essen</text>
<text x="146.45" y="614.6" font-size="11" font-weight="bold" fill="#222" text-anchor="middle">I11</text>
<path d="M162.6 607.2 h3.6 l2.8 2 v3 l-2.8 2 h-3.6 z" fill="#7db51a"/>
<path d="M591.4 105.1 H457.4 a6.4 6.4 0 0 0 0 12.8 H591.4 z" fill="#fff" stroke="#3a3a3a" stroke-width="1.1"/>
<rect x="462.8" y="106.8" width="95.7" height="9.2" fill="url(#fadeL)"/>
<path d="M559.1 105.1 v12.8" stroke="#3a3a3a" stroke-width="1.1"/>
<rect x="456.45" y="108.4" width="1.7" height="1.7" fill="#222"/>
<rect x="456.45" y="110.9" width="1.7" height="3.4" fill="#222"/>
<text x="471" y="115.4" font-size="11" font-weight="bold" fill="#2c2c2c" text-anchor="start" textLength="32.5" lengthAdjust="spacingAndGlyphs">Wert 0</text>
<text x="575.25" y="115.4" font-size="11" fill="#222" text-anchor="middle">C</text>
<path d="M591.4 108 h3.6 l2.8 2 v3 l-2.8 2 h-3.6 z" fill="#7db51a"/>
<path d="M591.4 156.3 H457.4 a6.4 6.4 0 0 0 0 12.8 H591.4 z" fill="#fff" stroke="#3a3a3a" stroke-width="1.1"/>
<rect x="462.8" y="158" width="95.7" height="9.2" fill="url(#fadeL)"/>
<path d="M559.1 156.3 v12.8" stroke="#3a3a3a" stroke-width="1.1"/>
<rect x="456.45" y="159.6" width="1.7" height="1.7" fill="#222"/>
<rect x="456.45" y="162.1" width="1.7" height="3.4" fill="#222"/>
<text x="471" y="166.6" font-size="11" font-weight="bold" fill="#2c2c2c" text-anchor="start" textLength="32.5" lengthAdjust="spacingAndGlyphs">Wert 1</text>
<text x="575.25" y="166.6" font-size="11" fill="#222" text-anchor="middle">C</text>
<path d="M591.4 159.2 h3.6 l2.8 2 v3 l-2.8 2 h-3.6 z" fill="#7db51a"/>
<path d="M591.4 207.5 H457.4 a6.4 6.4 0 0 0 0 12.8 H591.4 z" fill="#fff" stroke="#3a3a3a" stroke-width="1.1"/>
<rect x="462.8" y="209.2" width="95.7" height="9.2" fill="url(#fadeL)"/>
<path d="M559.1 207.5 v12.8" stroke="#3a3a3a" stroke-width="1.1"/>
<rect x="456.45" y="210.8" width="1.7" height="1.7" fill="#222"/>
<rect x="456.45" y="213.3" width="1.7" height="3.4" fill="#222"/>
<text x="471" y="217.8" font-size="11" font-weight="bold" fill="#2c2c2c" text-anchor="start" textLength="32.5" lengthAdjust="spacingAndGlyphs">Wert 2</text>
<text x="575.25" y="217.8" font-size="11" fill="#222" text-anchor="middle">C</text>
<path d="M591.4 210.4 h3.6 l2.8 2 v3 l-2.8 2 h-3.6 z" fill="#7db51a"/>
<path d="M450.6 53.9 H585 a6.4 6.4 0 0 1 0 12.8 H450.6 z" fill="#fff" stroke="#3a3a3a" stroke-width="1.1"/>
<rect x="483.2" y="55.6" width="96" height="9.2" fill="url(#fadeR)"/>
<path d="M482.6 53.9 v12.8" stroke="#3a3a3a" stroke-width="1.1"/>
<rect x="583.65" y="57.2" width="1.7" height="1.7" fill="#222"/>
<rect x="583.65" y="59.7" width="1.7" height="3.4" fill="#222"/>
<text x="490.4" y="63" font-size="8.3" fill="#333" text-anchor="start" textLength="66.5" lengthAdjust="spacingAndGlyphs">Alarmanlage Alarm</text>
<text x="466.6" y="64.2" font-size="11" font-weight="bold" fill="#222" text-anchor="middle">L</text>
<path d="M444 56.9 h6.6 v6.8 h-6.6 l2.7 -3.4 z" fill="#f06a3c"/>
<path d="M450.6 66.7 H585 a6.4 6.4 0 0 1 0 12.8 H450.6 z" fill="#fff" stroke="#3a3a3a" stroke-width="1.1"/>
<rect x="483.2" y="68.4" width="96" height="9.2" fill="url(#fadeR)"/>
<path d="M482.6 66.7 v12.8" stroke="#3a3a3a" stroke-width="1.1"/>
<rect x="583.65" y="70" width="1.7" height="1.7" fill="#222"/>
<rect x="583.65" y="72.5" width="1.7" height="3.4" fill="#222"/>
<text x="490.4" y="75.8" font-size="8.3" fill="#333" text-anchor="start" textLength="62" lengthAdjust="spacingAndGlyphs">Alarm Nacht (still)</text>
<text x="466.6" y="77" font-size="11" font-weight="bold" fill="#222" text-anchor="middle">M</text>
<path d="M444 69.7 h6.6 v6.8 h-6.6 l2.7 -3.4 z" fill="#f06a3c"/>
<path d="M450.6 79.5 H585 a6.4 6.4 0 0 1 0 12.8 H450.6 z" fill="#fff" stroke="#3a3a3a" stroke-width="1.1"/>
<rect x="483.2" y="81.2" width="96" height="9.2" fill="url(#fadeR)"/>
<path d="M482.6 79.5 v12.8" stroke="#3a3a3a" stroke-width="1.1"/>
<rect x="583.65" y="82.8" width="1.7" height="1.7" fill="#222"/>
<rect x="583.65" y="85.3" width="1.7" height="3.4" fill="#222"/>
<text x="490.4" y="88.6" font-size="8.3" fill="#333" text-anchor="start" textLength="62" lengthAdjust="spacingAndGlyphs">Alarm Nacht (laut)</text>
<text x="466.6" y="89.8" font-size="11" font-weight="bold" fill="#222" text-anchor="middle">M</text>
<path d="M444 82.5 h6.6 v6.8 h-6.6 l2.7 -3.4 z" fill="#f06a3c"/>
<path d="M546.6 258.7 H681 a6.4 6.4 0 0 1 0 12.8 H546.6 z" fill="#fff" stroke="#3a3a3a" stroke-width="1.1"/>
<rect x="579.2" y="260.4" width="96" height="9.2" fill="url(#fadeR)"/>
<path d="M578.6 258.7 v12.8" stroke="#3a3a3a" stroke-width="1.1"/>
<rect x="679.65" y="262" width="1.7" height="1.7" fill="#222"/>
<rect x="679.65" y="264.5" width="1.7" height="3.4" fill="#222"/>
<text x="586.4" y="267.8" font-size="8.3" fill="#333" text-anchor="start" textLength="72" lengthAdjust="spacingAndGlyphs">Schalter Eltern LED 1</text>
<text x="562.6" y="269" font-size="11" fill="#222" text-anchor="middle">Q</text>
<path d="M540 261.7 h6.6 v6.8 h-6.6 l2.7 -3.4 z" fill="#f06a3c"/>
<path d="M866.6 117.9 H1001 a6.4 6.4 0 0 1 0 12.8 H866.6 z" fill="#fff" stroke="#3a3a3a" stroke-width="1.1"/>
<rect x="899.2" y="119.6" width="96" height="9.2" fill="url(#fadeR)"/>
<path d="M898.6 117.9 v12.8" stroke="#3a3a3a" stroke-width="1.1"/>
<rect x="999.65" y="121.2" width="1.7" height="1.7" fill="#222"/>
<rect x="999.65" y="123.7" width="1.7" height="3.4" fill="#222"/>
<text x="906.4" y="127" font-size="8.3" fill="#333" text-anchor="start" textLength="72" lengthAdjust="spacingAndGlyphs">Schalter Eltern LED 2</text>
<text x="882.6" y="128.2" font-size="11" fill="#222" text-anchor="middle">Q</text>
<path d="M860 120.9 h6.6 v6.8 h-6.6 l2.7 -3.4 z" fill="#f06a3c"/>
<path d="M425 591.5 H559.4 a6.4 6.4 0 0 1 0 12.8 H425 z" fill="#fff" stroke="#3a3a3a" stroke-width="1.1"/>
<rect x="457.6" y="593.2" width="96" height="9.2" fill="url(#fadeR)"/>
<path d="M457 591.5 v12.8" stroke="#3a3a3a" stroke-width="1.1"/>
<rect x="558.05" y="594.8" width="1.7" height="1.7" fill="#222"/>
<rect x="558.05" y="597.3" width="1.7" height="3.4" fill="#222"/>
<text x="464.8" y="600.6" font-size="8.3" fill="#333" text-anchor="start" textLength="66.2" lengthAdjust="spacingAndGlyphs">Alarm Nacht Zähler</text>
<text x="441" y="601.8" font-size="11" font-weight="bold" fill="#222" text-anchor="middle">M</text>
<path d="M418.4 594.5 h6.6 v6.8 h-6.6 l2.7 -3.4 z" fill="#f06a3c"/>
<rect x="207.5" y="25.9" width="179" height="360.6" fill="#fff" stroke="#88aa3c" stroke-width="1"/>
<path d="M207 27.9 v-19.1 a0.5 0.5 0 0 1 0.5 -0.5 h179 a0.5 0.5 0 0 1 0.5 0.5 v19.1 z" fill="#82b61e"/>
<text x="211.4" y="21.7" font-size="11" font-weight="bold" fill="#f6fbdc" text-anchor="start" letter-spacing="0.06">Alarm Nacht</text>
<circle cx="377.6" cy="18.1" r="6" fill="#fdfff4"/>
<rect x="376.55" y="15.1" width="2.1" height="1.8" fill="#111"/>
<rect x="376.55" y="17.4" width="2.1" height="3.7" fill="#111" rx="0.4"/>
<rect x="208" y="27.9" width="178" height="13.2" fill="#ebebeb"/>
<text x="297.8" y="37.9" font-size="11" fill="#333" text-anchor="middle" letter-spacing="0.1">Alarmanlage</text>
<path d="M200.9 44.1 h6.6 v6.8 h-6.6 l2.7 -3.4 z" fill="#f06a3c"/>
<text x="215.1" y="50.9" font-size="11" fill="#000000" text-anchor="start">I1</text>
<path d="M200.9 56.9 h6.6 v6.8 h-6.6 l2.7 -3.4 z" fill="#f06a3c"/>
<text x="215.1" y="63.7" font-size="11" fill="#c0304a" text-anchor="start">I3</text>
<circle cx="207.4" cy="60.3" r="2.1" fill="#fff" stroke="#111" stroke-width="1.1"/>
<path d="M200.9 312.9 h6.6 v6.8 h-6.6 l2.7 -3.4 z" fill="#f06a3c"/>
<text x="215.1" y="319.7" font-size="11" fill="#c0304a" text-anchor="start">I4</text>
<circle cx="207.4" cy="316.3" r="2.1" fill="#fff" stroke="#111" stroke-width="1.1"/>
<path d="M200.9 338.5 h6.6 v6.8 h-6.6 l2.7 -3.4 z" fill="#f06a3c"/>
<text x="215.1" y="345.3" font-size="11" fill="#000000" text-anchor="start">Tr</text>
<path d="M200.9 351.3 h6.6 v6.8 h-6.6 l2.7 -3.4 z" fill="#f06a3c"/>
<text x="215.1" y="358.1" font-size="11" fill="#000000" text-anchor="start">R</text>
<path d="M200.9 364.1 h6.6 v6.8 h-6.6 l2.7 -3.4 z" fill="#3f86d8"/>
<text x="215.1" y="370.9" font-size="11" fill="#c0304a" text-anchor="start">Ii</text>
<circle cx="207.4" cy="367.5" r="2.1" fill="#fff" stroke="#111" stroke-width="1.1"/>
<path d="M200.9 376.9 h6.6 v6.8 h-6.6 l2.7 -3.4 z" fill="#92969d"/>
<circle cx="219" cy="380.3" r="4.7" fill="#9b9b9f"/>
<path d="M216.3 380.3 h5.4 M219 377.6 v5.4" stroke="#fff" stroke-width="1.5"/>
<path d="M386.5 44 h3.6 l2.8 2 v3 l-2.8 2 h-3.6 z" fill="#7db51a"/>
<text x="378" y="50.9" font-size="11" fill="#000000" text-anchor="end">AQ</text>
<path d="M386.5 56.8 h3.6 l2.8 2 v3 l-2.8 2 h-3.6 z" fill="#7db51a"/>
<text x="378" y="63.7" font-size="11" fill="#000000" text-anchor="end">Q1</text>
<path d="M386.5 82.4 h3.6 l2.8 2 v3 l-2.8 2 h-3.6 z" fill="#7db51a"/>
<text x="378" y="89.3" font-size="11" fill="#000000" text-anchor="end">Q2</text>
<path d="M386.5 95.2 h3.6 l2.8 2 v3 l-2.8 2 h-3.6 z" fill="#7db51a"/>
<text x="378" y="102.1" font-size="11" fill="#000000" text-anchor="end">Qo</text>
<path d="M386.5 108 h3.6 l2.8 2 v3 l-2.8 2 h-3.6 z" fill="#92969d"/>
<circle cx="375.6" cy="111.5" r="4.7" fill="#9b9b9f"/>
<path d="M372.9 111.5 h5.4 M375.6 108.8 v5.4" stroke="#fff" stroke-width="1.5"/>
<text x="293.8" y="50.8" font-size="11" fill="#6e6e6e" text-anchor="middle" letter-spacing="0.15">Zentral</text>
<text x="293.8" y="63.6" font-size="11" fill="#6e6e6e" text-anchor="middle" letter-spacing="0.15">Alarm</text>
<rect x="617.5" y="90.3" width="89" height="27.2" fill="#fff" stroke="#88aa3c" stroke-width="1"/>
<path d="M617 92.3 v-18.3 a1.3 1.3 0 0 1 1.3 -1.3 h87.4 a1.3 1.3 0 0 1 1.3 1.3 v18.3 z" fill="#82b61e"/>
<text x="621.4" y="86.1" font-size="11" font-weight="bold" fill="#f6fbdc" text-anchor="start" letter-spacing="0.06">Gleich</text>
<circle cx="697.6" cy="82.5" r="6" fill="#fdfff4"/>
<rect x="696.55" y="79.5" width="2.1" height="1.8" fill="#111"/>
<rect x="696.55" y="81.8" width="2.1" height="3.7" fill="#111" rx="0.4"/>
<path d="M610.9 95.3 h6.6 v6.8 h-6.6 l2.7 -3.4 z" fill="#f06a3c"/>
<text x="625.1" y="102.1" font-size="11" fill="#000000" text-anchor="start">AI1</text>
<path d="M610.9 108.1 h6.6 v6.8 h-6.6 l2.7 -3.4 z" fill="#f06a3c"/>
<text x="625.1" y="114.9" font-size="11" fill="#000000" text-anchor="start">AI2</text>
<path d="M706.5 95.2 h3.6 l2.8 2 v3 l-2.8 2 h-3.6 z" fill="#7db51a"/>
<text x="698" y="102.1" font-size="11" fill="#000000" text-anchor="end">Q</text>
<rect x="617.5" y="141.5" width="89" height="28" fill="#fff" stroke="#88aa3c" stroke-width="1"/>
<path d="M617 143.5 v-18.3 a1.3 1.3 0 0 1 1.3 -1.3 h87.4 a1.3 1.3 0 0 1 1.3 1.3 v18.3 z" fill="#82b61e"/>
<text x="621.4" y="137.3" font-size="11" font-weight="bold" fill="#f6fbdc" text-anchor="start" letter-spacing="0.06">Gleich</text>
<circle cx="697.6" cy="133.7" r="6" fill="#fdfff4"/>
<rect x="696.55" y="130.7" width="2.1" height="1.8" fill="#111"/>
<rect x="696.55" y="133" width="2.1" height="3.7" fill="#111" rx="0.4"/>
<path d="M610.9 146.5 h6.6 v6.8 h-6.6 l2.7 -3.4 z" fill="#f06a3c"/>
<text x="625.1" y="153.3" font-size="11" fill="#000000" text-anchor="start">AI1</text>
<path d="M610.9 159.3 h6.6 v6.8 h-6.6 l2.7 -3.4 z" fill="#f06a3c"/>
<text x="625.1" y="166.1" font-size="11" fill="#000000" text-anchor="start">AI2</text>
<path d="M706.5 146.4 h3.6 l2.8 2 v3 l-2.8 2 h-3.6 z" fill="#7db51a"/>
<text x="698" y="153.3" font-size="11" fill="#000000" text-anchor="end">Q</text>
<rect x="617.5" y="192.7" width="89" height="27.8" fill="#fff" stroke="#88aa3c" stroke-width="1"/>
<path d="M617 194.7 v-18.3 a1.3 1.3 0 0 1 1.3 -1.3 h87.4 a1.3 1.3 0 0 1 1.3 1.3 v18.3 z" fill="#82b61e"/>
<text x="621.4" y="188.5" font-size="11" font-weight="bold" fill="#f6fbdc" text-anchor="start" letter-spacing="0.06">Gleich</text>
<circle cx="697.6" cy="184.9" r="6" fill="#fdfff4"/>
<rect x="696.55" y="181.9" width="2.1" height="1.8" fill="#111"/>
<rect x="696.55" y="184.2" width="2.1" height="3.7" fill="#111" rx="0.4"/>
<path d="M610.9 197.7 h6.6 v6.8 h-6.6 l2.7 -3.4 z" fill="#f06a3c"/>
<text x="625.1" y="204.5" font-size="11" fill="#000000" text-anchor="start">AI1</text>
<path d="M610.9 210.5 h6.6 v6.8 h-6.6 l2.7 -3.4 z" fill="#f06a3c"/>
<text x="625.1" y="217.3" font-size="11" fill="#000000" text-anchor="start">AI2</text>
<path d="M706.5 197.6 h3.6 l2.8 2 v3 l-2.8 2 h-3.6 z" fill="#7db51a"/>
<text x="698" y="204.5" font-size="11" fill="#000000" text-anchor="end">Q</text>
<rect x="738.5" y="90.3" width="90" height="27.2" fill="#fff" stroke="#88aa3c" stroke-width="1"/>
<path d="M738 92.3 v-18.3 a1.3 1.3 0 0 1 1.3 -1.3 h88.4 a1.3 1.3 0 0 1 1.3 1.3 v18.3 z" fill="#82b61e"/>
<text x="742.4" y="86.1" font-size="11" font-weight="bold" fill="#f6fbdc" text-anchor="start" letter-spacing="0.06">Flankeng...</text>
<circle cx="819.6" cy="82.5" r="6" fill="#fdfff4"/>
<rect x="818.55" y="79.5" width="2.1" height="1.8" fill="#111"/>
<rect x="818.55" y="81.8" width="2.1" height="3.7" fill="#111" rx="0.4"/>
<path d="M731.9 95.3 h6.6 v6.8 h-6.6 l2.7 -3.4 z" fill="#f06a3c"/>
<text x="746.1" y="102.1" font-size="11" fill="#000000" text-anchor="start">Tr</text>
<path d="M731.9 108.1 h6.6 v6.8 h-6.6 l2.7 -3.4 z" fill="#92969d"/>
<circle cx="750" cy="111.5" r="4.7" fill="#9b9b9f"/>
<path d="M747.3 111.5 h5.4 M750 108.8 v5.4" stroke="#fff" stroke-width="1.5"/>
<path d="M828.5 95.2 h3.6 l2.8 2 v3 l-2.8 2 h-3.6 z" fill="#7db51a"/>
<text x="820" y="102.1" font-size="11" fill="#000000" text-anchor="end">Q</text>
<rect x="738.5" y="141.5" width="90" height="28" fill="#fff" stroke="#88aa3c" stroke-width="1"/>
<path d="M738 143.5 v-18.3 a1.3 1.3 0 0 1 1.3 -1.3 h88.4 a1.3 1.3 0 0 1 1.3 1.3 v18.3 z" fill="#82b61e"/>
<text x="742.4" y="137.3" font-size="11" font-weight="bold" fill="#f6fbdc" text-anchor="start" letter-spacing="0.06">Flankeng...</text>
<circle cx="819.6" cy="133.7" r="6" fill="#fdfff4"/>
<rect x="818.55" y="130.7" width="2.1" height="1.8" fill="#111"/>
<rect x="818.55" y="133" width="2.1" height="3.7" fill="#111" rx="0.4"/>
<path d="M731.9 146.5 h6.6 v6.8 h-6.6 l2.7 -3.4 z" fill="#f06a3c"/>
<text x="746.1" y="153.3" font-size="11" fill="#000000" text-anchor="start">Tr</text>
<path d="M731.9 159.3 h6.6 v6.8 h-6.6 l2.7 -3.4 z" fill="#92969d"/>
<circle cx="750" cy="162.7" r="4.7" fill="#9b9b9f"/>
<path d="M747.3 162.7 h5.4 M750 160 v5.4" stroke="#fff" stroke-width="1.5"/>
<path d="M828.5 146.4 h3.6 l2.8 2 v3 l-2.8 2 h-3.6 z" fill="#7db51a"/>
<text x="820" y="153.3" font-size="11" fill="#000000" text-anchor="end">Q</text>
<rect x="425.5" y="256.7" width="89" height="27.8" fill="#fff" stroke="#88aa3c" stroke-width="1"/>
<path d="M425 258.7 v-18.3 a1.3 1.3 0 0 1 1.3 -1.3 h87.4 a1.3 1.3 0 0 1 1.3 1.3 v18.3 z" fill="#82b61e"/>
<text x="429.4" y="252.5" font-size="11" font-weight="bold" fill="#f6fbdc" text-anchor="start" letter-spacing="0.06">Flankeng...</text>
<circle cx="505.6" cy="248.9" r="6" fill="#fdfff4"/>
<rect x="504.55" y="245.9" width="2.1" height="1.8" fill="#111"/>
<rect x="504.55" y="248.2" width="2.1" height="3.7" fill="#111" rx="0.4"/>
<path d="M418.9 261.7 h6.6 v6.8 h-6.6 l2.7 -3.4 z" fill="#f06a3c"/>
<text x="433.1" y="268.5" font-size="11" fill="#000000" text-anchor="start">Tr</text>
<path d="M418.9 274.5 h6.6 v6.8 h-6.6 l2.7 -3.4 z" fill="#92969d"/>
<circle cx="437" cy="277.9" r="4.7" fill="#9b9b9f"/>
<path d="M434.3 277.9 h5.4 M437 275.2 v5.4" stroke="#fff" stroke-width="1.5"/>
<path d="M514.5 261.6 h3.6 l2.8 2 v3 l-2.8 2 h-3.6 z" fill="#7db51a"/>
<text x="506" y="268.5" font-size="11" fill="#000000" text-anchor="end">Q</text>
<rect x="815.5" y="198.7" width="179" height="53.8" fill="#fff" stroke="#88aa3c" stroke-width="1"/>
<path d="M815 200.7 v-18.3 a1.3 1.3 0 0 1 1.3 -1.3 h177.4 a1.3 1.3 0 0 1 1.3 1.3 v18.3 z" fill="#82b61e"/>
<text x="819.4" y="194.5" font-size="11" font-weight="bold" fill="#f6fbdc" text-anchor="start" letter-spacing="0.06">Nachtalarm EG aus+runter</text>
<circle cx="985.6" cy="190.9" r="6" fill="#fdfff4"/>
<rect x="984.55" y="187.9" width="2.1" height="1.8" fill="#111"/>
<rect x="984.55" y="190.2" width="2.1" height="3.7" fill="#111" rx="0.4"/>
<rect x="816" y="200.7" width="178" height="13.2" fill="#ebebeb"/>
<text x="905.8" y="210.7" font-size="11" fill="#333" text-anchor="middle" letter-spacing="0.1">Zentral</text>
<path d="M808.9 216.9 h6.6 v6.8 h-6.6 l2.7 -3.4 z" fill="#f06a3c"/>
<text x="823.1" y="223.7" font-size="11" fill="#000000" text-anchor="start">Loff</text>
<path d="M808.9 229.7 h6.6 v6.8 h-6.6 l2.7 -3.4 z" fill="#f06a3c"/>
<text x="823.1" y="236.5" font-size="11" fill="#000000" text-anchor="start">Cd</text>
<path d="M808.9 242.5 h6.6 v6.8 h-6.6 l2.7 -3.4 z" fill="#92969d"/>
<circle cx="827" cy="245.9" r="4.7" fill="#9b9b9f"/>
<path d="M824.3 245.9 h5.4 M827 243.2 v5.4" stroke="#fff" stroke-width="1.5"/>
<path d="M994.5 242.4 h3.6 l2.8 2 v3 l-2.8 2 h-3.6 z" fill="#92969d"/>
<circle cx="983.6" cy="245.9" r="4.7" fill="#9b9b9f"/>
<path d="M980.9 245.9 h5.4 M983.6 243.2 v5.4" stroke="#fff" stroke-width="1.5"/>
<rect x="194.5" y="442.3" width="90" height="53.2" fill="#fff" stroke="#88aa3c" stroke-width="1"/>
<path d="M194 444.3 v-18.3 a1.3 1.3 0 0 1 1.3 -1.3 h88.4 a1.3 1.3 0 0 1 1.3 1.3 v18.3 z" fill="#82b61e"/>
<text x="198.4" y="438.1" font-size="11" font-weight="bold" fill="#f6fbdc" text-anchor="start" letter-spacing="0.06">Langzeit...</text>
<circle cx="275.6" cy="434.5" r="6" fill="#fdfff4"/>
<rect x="274.55" y="431.5" width="2.1" height="1.8" fill="#111"/>
<rect x="274.55" y="433.8" width="2.1" height="3.7" fill="#111" rx="0.4"/>
<path d="M187.9 447.3 h6.6 v6.8 h-6.6 l2.7 -3.4 z" fill="#f06a3c"/>
<text x="202.1" y="454.1" font-size="11" fill="#000000" text-anchor="start">Tr</text>
<path d="M187.9 460.1 h6.6 v6.8 h-6.6 l2.7 -3.4 z" fill="#92969d"/>
<circle cx="206" cy="463.5" r="4.7" fill="#9b9b9f"/>
<path d="M203.3 463.5 h5.4 M206 460.8 v5.4" stroke="#fff" stroke-width="1.5"/>
<path d="M284.5 447.2 h3.6 l2.8 2 v3 l-2.8 2 h-3.6 z" fill="#7db51a"/>
<text x="276" y="454.1" font-size="11" fill="#000000" text-anchor="end">Q1</text>
<path d="M284.5 460 h3.6 l2.8 2 v3 l-2.8 2 h-3.6 z" fill="#7db51a"/>
<text x="276" y="466.9" font-size="11" fill="#000000" text-anchor="end">Q2</text>
<path d="M284.5 472.8 h3.6 l2.8 2 v3 l-2.8 2 h-3.6 z" fill="#7db51a"/>
<text x="276" y="479.7" font-size="11" fill="#000000" text-anchor="end">Q4</text>
<path d="M284.5 485.6 h3.6 l2.8 2 v3 l-2.8 2 h-3.6 z" fill="#92969d"/>
<circle cx="273.6" cy="489.1" r="4.7" fill="#9b9b9f"/>
<path d="M270.9 489.1 h5.4 M273.6 486.4 v5.4" stroke="#fff" stroke-width="1.5"/>
<rect x="316.5" y="538.3" width="89" height="27.2" fill="#fff" stroke="#88aa3c" stroke-width="1"/>
<path d="M316 540.3 v-18.3 a1.3 1.3 0 0 1 1.3 -1.3 h87.4 a1.3 1.3 0 0 1 1.3 1.3 v18.3 z" fill="#82b61e"/>
<text x="320.4" y="534.1" font-size="11" font-weight="bold" fill="#f6fbdc" text-anchor="start" letter-spacing="0.06">PM Erdg...</text>
<circle cx="396.6" cy="530.5" r="6" fill="#fdfff4"/>
<rect x="395.55" y="527.5" width="2.1" height="1.8" fill="#111"/>
<rect x="395.55" y="529.8" width="2.1" height="3.7" fill="#111" rx="0.4"/>
<path d="M309.9 543.3 h6.6 v6.8 h-6.6 l2.7 -3.4 z" fill="#f06a3c"/>
<text x="324.1" y="550.1" font-size="11" fill="#000000" text-anchor="start">I1</text>
<path d="M309.9 556.1 h6.6 v6.8 h-6.6 l2.7 -3.4 z" fill="#f06a3c"/>
<text x="324.1" y="562.9" font-size="11" fill="#000000" text-anchor="start">I2</text>
<path d="M405.5 543.2 h3.6 l2.8 2 v3 l-2.8 2 h-3.6 z" fill="#7db51a"/>
<text x="397" y="550.1" font-size="11" fill="#000000" text-anchor="end">Q</text>
<text x="361" y="550" font-size="11" fill="#6e6e6e" text-anchor="middle" letter-spacing="0.15">UND</text>
<rect x="194.5" y="589.5" width="90" height="28" fill="#fff" stroke="#88aa3c" stroke-width="1"/>
<path d="M194 591.5 v-18.3 a1.3 1.3 0 0 1 1.3 -1.3 h88.4 a1.3 1.3 0 0 1 1.3 1.3 v18.3 z" fill="#82b61e"/>
<text x="198.4" y="585.3" font-size="11" font-weight="bold" fill="#f6fbdc" text-anchor="start" letter-spacing="0.06">ODER</text>
<circle cx="275.6" cy="581.7" r="6" fill="#fdfff4"/>
<rect x="274.55" y="578.7" width="2.1" height="1.8" fill="#111"/>
<rect x="274.55" y="581" width="2.1" height="3.7" fill="#111" rx="0.4"/>
<path d="M187.9 594.5 h6.6 v6.8 h-6.6 l2.7 -3.4 z" fill="#f06a3c"/>
<text x="202.1" y="601.3" font-size="11" fill="#000000" text-anchor="start">I1</text>
<path d="M187.9 607.3 h6.6 v6.8 h-6.6 l2.7 -3.4 z" fill="#f06a3c"/>
<text x="202.1" y="614.1" font-size="11" fill="#000000" text-anchor="start">I2</text>
<path d="M284.5 594.4 h3.6 l2.8 2 v3 l-2.8 2 h-3.6 z" fill="#7db51a"/>
<text x="276" y="601.3" font-size="11" fill="#000000" text-anchor="end">Q</text>
<rect x="316.5" y="589.5" width="89" height="28" fill="#fff" stroke="#88aa3c" stroke-width="1"/>
<path d="M316 591.5 v-18.3 a1.3 1.3 0 0 1 1.3 -1.3 h87.4 a1.3 1.3 0 0 1 1.3 1.3 v18.3 z" fill="#82b61e"/>
<text x="320.4" y="585.3" font-size="11" font-weight="bold" fill="#f6fbdc" text-anchor="start" letter-spacing="0.06">Verzöger...</text>
<circle cx="396.6" cy="581.7" r="6" fill="#fdfff4"/>
<rect x="395.55" y="578.7" width="2.1" height="1.8" fill="#111"/>
<rect x="395.55" y="581" width="2.1" height="3.7" fill="#111" rx="0.4"/>
<path d="M309.9 594.5 h6.6 v6.8 h-6.6 l2.7 -3.4 z" fill="#f06a3c"/>
<text x="324.1" y="601.3" font-size="11" fill="#000000" text-anchor="start">Tr</text>
<path d="M309.9 607.3 h6.6 v6.8 h-6.6 l2.7 -3.4 z" fill="#92969d"/>
<circle cx="328" cy="610.7" r="4.7" fill="#9b9b9f"/>
<path d="M325.3 610.7 h5.4 M328 608 v5.4" stroke="#fff" stroke-width="1.5"/>
<path d="M405.5 594.4 h3.6 l2.8 2 v3 l-2.8 2 h-3.6 z" fill="#7db51a"/>
<text x="397" y="601.3" font-size="11" fill="#000000" text-anchor="end">Q</text>
<path d="M194.5 296.5 L418.5 296.5" fill="none" stroke="#333333" stroke-width="1" stroke-linejoin="miter" shape-rendering="crispEdges"/>
<rect x="693.6" y="322.4" width="318" height="384.8" fill="#fff9c6" stroke="#3a3828" stroke-width="1.1"/>
<text x="774.5" y="338.5" font-size="10.2" fill="#3a3a30" text-anchor="start" textLength="156" lengthAdjust="spacing">### Aktivierung durch Taster ###</text>
<text x="726" y="363.1" font-size="10.2" fill="#3a3a30" text-anchor="start" textLength="253" lengthAdjust="spacing">Nachtalarm wird durch Langzeitklick (2 sek) aktiviert.</text>
<text x="737.5" y="375.4" font-size="10.2" fill="#3a3a30" text-anchor="start" textLength="230" lengthAdjust="spacing">Die rechte LED am Taster leuchtet auf (4 sek).</text>
<text x="728" y="387.7" font-size="10.2" fill="#3a3a30" text-anchor="start" textLength="249" lengthAdjust="spacing">Sind im EG noch Fenster offen, blinkt die linke LED.</text>
<text x="767.5" y="424.6" font-size="10.2" fill="#3a3a30" text-anchor="start" textLength="170" lengthAdjust="spacing">### Deaktivierung durch Taster ###</text>
<text x="715.7" y="436.9" font-size="10.2" fill="#3a3a30" text-anchor="start" textLength="273.6" lengthAdjust="spacing">Nachtalarm wird durch weiteren Langzeitklick deaktiviert.</text>
<text x="728.5" y="449.2" font-size="10.2" fill="#3a3a30" text-anchor="start" textLength="248" lengthAdjust="spacing">Als Bestätigung leuchtet die rechte LED auf (1 sek).</text>
<text x="794" y="486.1" font-size="10.2" fill="#3a3a30" text-anchor="start" textLength="117" lengthAdjust="spacing">### Zusatzfunktion ###</text>
<text x="769" y="510.7" font-size="10.2" fill="#3a3a30" text-anchor="start" textLength="167" lengthAdjust="spacing">Bei aktiviertem Nachtalarm werden</text>
<text x="787" y="523" font-size="10.2" fill="#3a3a30" text-anchor="start" textLength="131" lengthAdjust="spacing">im Erdgeschoss und Außen</text>
<text x="734.25" y="535.3" font-size="10.2" fill="#3a3a30" text-anchor="start" textLength="236.5" lengthAdjust="spacing">alle Leuchten und Steckdosen ausgeschaltet und</text>
<text x="772.5" y="547.6" font-size="10.2" fill="#3a3a30" text-anchor="start" textLength="160" lengthAdjust="spacing">alle Raffstores herunter gefahren.</text>
<text x="817.7" y="584.5" font-size="10.2" fill="#3a3a30" text-anchor="start" textLength="69.6" lengthAdjust="spacing">### Alarm ###</text>
<text x="842.2" y="609.1" font-size="10.2" fill="#3a3a30" text-anchor="start" textLength="20.6" lengthAdjust="spacing">Still:</text>
<text x="800.5" y="621.4" font-size="10.2" fill="#3a3a30" text-anchor="start" textLength="104" lengthAdjust="spacing">- Mitteilung an die App</text>
<text x="770" y="633.7" font-size="10.2" fill="#3a3a30" text-anchor="start" textLength="165" lengthAdjust="spacing">- Licht geht an (Eltern, Flure, TRH)</text>
<text x="770" y="646" font-size="10.2" fill="#3a3a30" text-anchor="start" textLength="165" lengthAdjust="spacing">- Dauer bis nächste Stufe: 60 sek</text>
<text x="841" y="670.6" font-size="10.2" fill="#3a3a30" text-anchor="start" textLength="23" lengthAdjust="spacing">Laut:</text>
<text x="784.5" y="682.9" font-size="10.2" fill="#3a3a30" text-anchor="start" textLength="136" lengthAdjust="spacing">- Alles Licht geht blinkend an</text>
<text x="785" y="695.2" font-size="10.2" fill="#3a3a30" text-anchor="start" textLength="135" lengthAdjust="spacing">- Alle Raffstores gehen hoch</text>
</svg>
</body>
</html>
